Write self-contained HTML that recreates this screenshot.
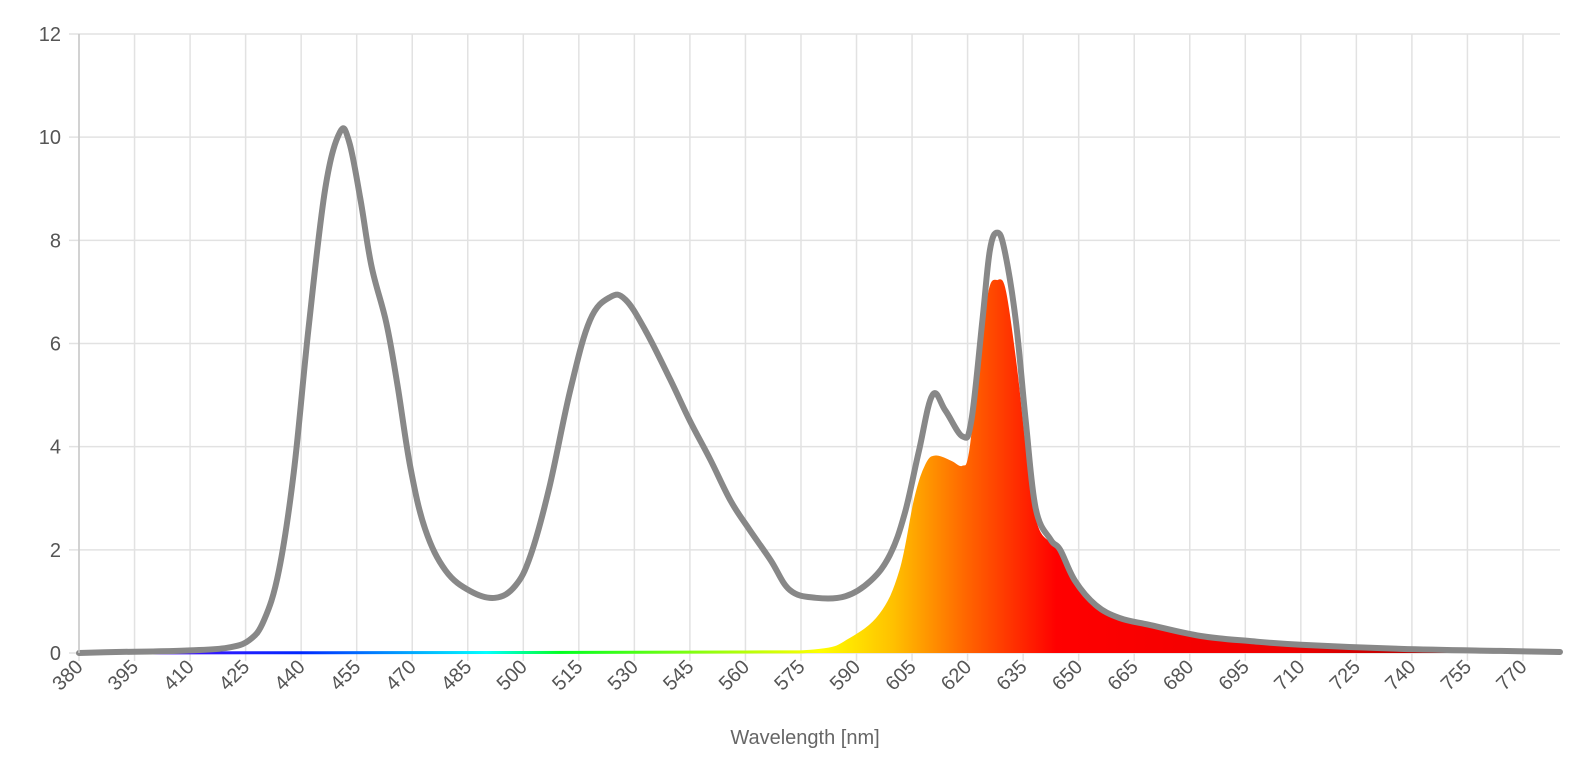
<!DOCTYPE html>
<html><head><meta charset="utf-8"><style>
html,body{margin:0;padding:0;background:#fff;}
svg{display:block;font-family:"Liberation Sans",Arial,sans-serif;}
</style></head><body>
<svg id="chart" width="1594" height="784" viewBox="0 0 1594 784" xmlns="http://www.w3.org/2000/svg">
<defs>
<linearGradient id="spec" gradientUnits="userSpaceOnUse" x1="79" y1="0" x2="1560" y2="0">
<stop offset="0" stop-color="#7a00ff"/>
<stop offset="0.15" stop-color="#0028ff"/>
<stop offset="0.275" stop-color="#00ffff"/>
<stop offset="0.325" stop-color="#00ff20"/>
<stop offset="0.5" stop-color="#ffff00"/>
<stop offset="0.55" stop-color="#ffc000"/>
<stop offset="0.6" stop-color="#ff6400"/>
<stop offset="0.66" stop-color="#ff0000"/>
<stop offset="0.82" stop-color="#ee0000"/>
<stop offset="1" stop-color="#7a0000"/>
</linearGradient>
</defs>
<g id="grid"></g>
<g id="marks"></g>
<g id="axes"></g>
<text x="805" y="744" text-anchor="middle" font-size="20" fill="#666">Wavelength [nm]</text>
</svg>
<script>
const grayNm = [380,390,400,410,420,426,430,434,438,442,446.5,450.5,453,456,459,463,466,469.5,473.5,479,485.7,492.4,497.8,502,507,512.7,518,523.5,527.6,533,539.7,545,550.5,556,561,566.8,572,579,587,593.8,599,603,606.8,610.5,614,618.6,621,624,626,628,630,633,635.7,638.4,642.4,645,649,654.6,661,669.5,683,696.5,710,737,764,780];
const grayVal = [0,0.02,0.03,0.05,0.1,0.25,0.64,1.6,3.5,6.3,9.0,10.1,9.9,8.8,7.5,6.4,5.2,3.6,2.4,1.6,1.2,1.07,1.3,1.9,3.2,5.1,6.45,6.9,6.85,6.25,5.3,4.5,3.75,2.95,2.4,1.8,1.22,1.07,1.1,1.4,1.9,2.7,3.9,5.0,4.7,4.2,4.5,6.45,7.8,8.15,7.8,6.45,4.5,2.8,2.2,2.0,1.4,0.93,0.68,0.54,0.33,0.23,0.16,0.08,0.04,0.02];
const fillNm = [380,500,560,580,588,596.5,602,606,609,611.5,615.4,618.6,620.8,623.5,626,628,630,633,635.7,638.4,642.4,645,649,654.6,661,669.5,683,696.5,710,737,764,780];
const fillVal = [0,0.01,0.02,0.05,0.25,0.74,1.6,3.0,3.65,3.8,3.7,3.6,3.9,5.7,7.0,7.2,7.0,5.5,3.75,2.5,2.1,1.95,1.4,0.93,0.68,0.54,0.33,0.23,0.16,0.08,0.04,0.02];
const yTicks = [0,2,4,6,8,10,12];
const xTicks = [380,395,410,425,440,455,470,485,500,515,530,545,560,575,590,605,620,635,650,665,680,695,710,725,740,755,770];

const L=79,R=1560,T=34,B=653;
const xS = nm => L + (nm-380)/(780-380)*(R-L);
const yS = v => B - v/12*(B-T);
const NS='http://www.w3.org/2000/svg';
function mk(tag, attrs, parent){const e=document.createElementNS(NS,tag);for(const k in attrs)e.setAttribute(k,attrs[k]);parent.appendChild(e);return e;}
const grid=document.getElementById('grid'), marks=document.getElementById('marks'), axes=document.getElementById('axes');

yTicks.forEach(v=>{
  const l=mk('line',{x1:L-10,x2:R,y1:yS(v),y2:yS(v),stroke:'#e2e2e2','stroke-width':1.5},grid);
  
  
  const t=mk('text',{x:L-18,y:yS(v)+7,'text-anchor':'end','font-size':20,fill:'#555'},axes);
  t.textContent=v;
  
  
});
xTicks.forEach(n=>{
  const l=mk('line',{x1:xS(n),x2:xS(n),y1:T,y2:B+8,stroke:'#e2e2e2','stroke-width':1.5},grid);
  
  
  const x=xS(n)+5,y=B+15;
  const t=mk('text',{x:x,y:y,'text-anchor':'end','font-size':20,fill:'#555',transform:`rotate(-45 ${x} ${y})`},axes);
  t.textContent=n;
  
  
});
const ax=mk('line',{x1:L,x2:L,y1:T,y2:B,stroke:'#c8c8c8','stroke-width':1.5},axes);



function smooth(xs,ys){
  const p=xs.map((n,i)=>[xS(n),yS(ys[i])]);
  let d=`M${p[0][0]},${p[0][1]}`;
  for(let i=0;i<p.length-1;i++){
    const p0=p[Math.max(0,i-1)],p1=p[i],p2=p[i+1],p3=p[Math.min(p.length-1,i+2)];
    const t=0.18;
    const c1=[p1[0]+(p2[0]-p0[0])*t,p1[1]+(p2[1]-p0[1])*t];
    const c2=[p2[0]-(p3[0]-p1[0])*t,p2[1]-(p3[1]-p1[1])*t];
    d+=` C${c1[0]},${c1[1]} ${c2[0]},${c2[1]} ${p2[0]},${p2[1]}`;
  }
  return d;
}
const fd=smooth(fillNm,fillVal);
const area=mk('path',{d:fd+` L${xS(780)},${B} L${xS(380)},${B} Z`,fill:'url(#spec)'},marks);


const base=mk('path',{d:fd,fill:'none',stroke:'url(#spec)','stroke-width':3},marks);


const gl=mk('path',{d:smooth(grayNm,grayVal),fill:'none',stroke:'#888','stroke-width':6,'stroke-linejoin':'round','stroke-linecap':'round'},marks);


</script>
</body></html>
